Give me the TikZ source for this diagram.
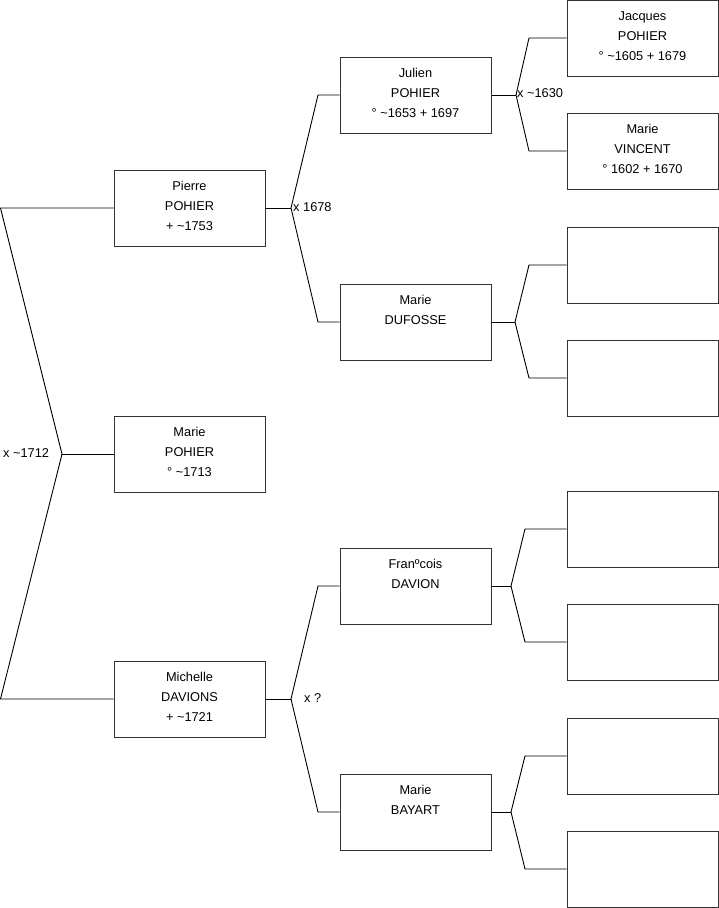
\documentclass[tikz,border=0pt]{standalone}
\usepackage{fontspec}
\setmainfont{Liberation Sans}
\begin{document}
\begin{tikzpicture}[x=1pt,y=-1pt,
  box/.style={draw=black!80,line width=1pt,inner sep=0pt,minimum width=151pt,minimum height=76pt},
  link/.style={draw=black,line width=0.9pt},
  mlab/.style={anchor=west,inner sep=0pt,font=\fontsize{12.8pt}{14pt}\selectfont}]
\newcommand{\bt}[1]{\parbox[c][76pt][t]{151pt}{\centering\fontsize{12.8pt}{20pt}\selectfont\rule{0pt}{20.7pt}#1}}
\useasboundingbox (0,0) rectangle (719,908);
% boxes
\node[box] (pierre)   at (189.5,208) {\bt{Pierre\\POHIER\\+ \string~1753}};
\node[box] (mariep)   at (189.5,454) {\bt{Marie\\POHIER\\° \string~1713}};
\node[box] (michelle) at (189.5,699) {\bt{Michelle\\DAVIONS\\+ \string~1721}};
\node[box] (julien)   at (415.5,95)  {\bt{Julien\\POHIER\\° \string~1653 + 1697}};
\node[box] (dufosse)  at (415.5,322) {\bt{Marie\\DUFOSSE}};
\node[box] (francois) at (415.5,586) {\bt{Franºcois\\DAVION}};
\node[box] (bayart)   at (415.5,812) {\bt{Marie\\BAYART}};
\node[box] (jacques)  at (642.5,38)  {\bt{Jacques\\POHIER\\° \string~1605 + 1679}};
\node[box] (vincent)  at (642.5,151) {\bt{Marie\\VINCENT\\° 1602 + 1670}};
\node[box] (e1) at (642.5,265) {};
\node[box] (e2) at (642.5,378) {};
\node[box] (e3) at (642.5,529) {};
\node[box] (e4) at (642.5,642) {};
\node[box] (e5) at (642.5,756) {};
\node[box] (e6) at (642.5,869) {};
% junction coordinates
\coordinate (l1) at (0.5,208);
\coordinate (l2) at (62,454);
\coordinate (l3) at (0.5,699);
\coordinate (j1) at (291,208);
\coordinate (j1a) at (318,95);
\coordinate (j1b) at (318,322);
\coordinate (j2) at (516,95);
\coordinate (j2a) at (529,38);
\coordinate (j2b) at (529,151);
\coordinate (j3) at (515,322);
\coordinate (j3a) at (529,265);
\coordinate (j3b) at (529,378);
\coordinate (j4) at (291,699);
\coordinate (j4a) at (318,586);
\coordinate (j4b) at (318,812);
\coordinate (j5) at (511,586);
\coordinate (j5a) at (525,529);
\coordinate (j5b) at (525,642);
\coordinate (j6) at (511,812);
\coordinate (j6a) at (525,756);
\coordinate (j6b) at (525,869);
% connectors
\draw[link] (pierre.west) -- (l1) -- (l2) -- (l3) -- (michelle.west);
\draw[link] (l2) -- (mariep.west);
\draw[link] (pierre.east) -- (j1);
\draw[link] (j1) -- (j1a) -- (julien.west);
\draw[link] (j1) -- (j1b) -- (dufosse.west);
\draw[link] (julien.east) -- (j2);
\draw[link] (j2) -- (j2a) -- (jacques.west);
\draw[link] (j2) -- (j2b) -- (vincent.west);
\draw[link] (dufosse.east) -- (j3);
\draw[link] (j3) -- (j3a) -- (e1.west);
\draw[link] (j3) -- (j3b) -- (e2.west);
\draw[link] (michelle.east) -- (j4);
\draw[link] (j4) -- (j4a) -- (francois.west);
\draw[link] (j4) -- (j4b) -- (bayart.west);
\draw[link] (francois.east) -- (j5);
\draw[link] (j5) -- (j5a) -- (e3.west);
\draw[link] (j5) -- (j5b) -- (e4.west);
\draw[link] (bayart.east) -- (j6);
\draw[link] (j6) -- (j6a) -- (e5.west);
\draw[link] (j6) -- (j6b) -- (e6.west);
% marriage labels
\node[mlab] (m1) at (3,453) {x \string~1712};
\node[mlab] (m2) at (293,207) {x 1678};
\node[mlab] (m3) at (517,93) {x \string~1630};
\node[mlab] (m4) at (304,698) {x ?};
\end{tikzpicture}
\end{document}
